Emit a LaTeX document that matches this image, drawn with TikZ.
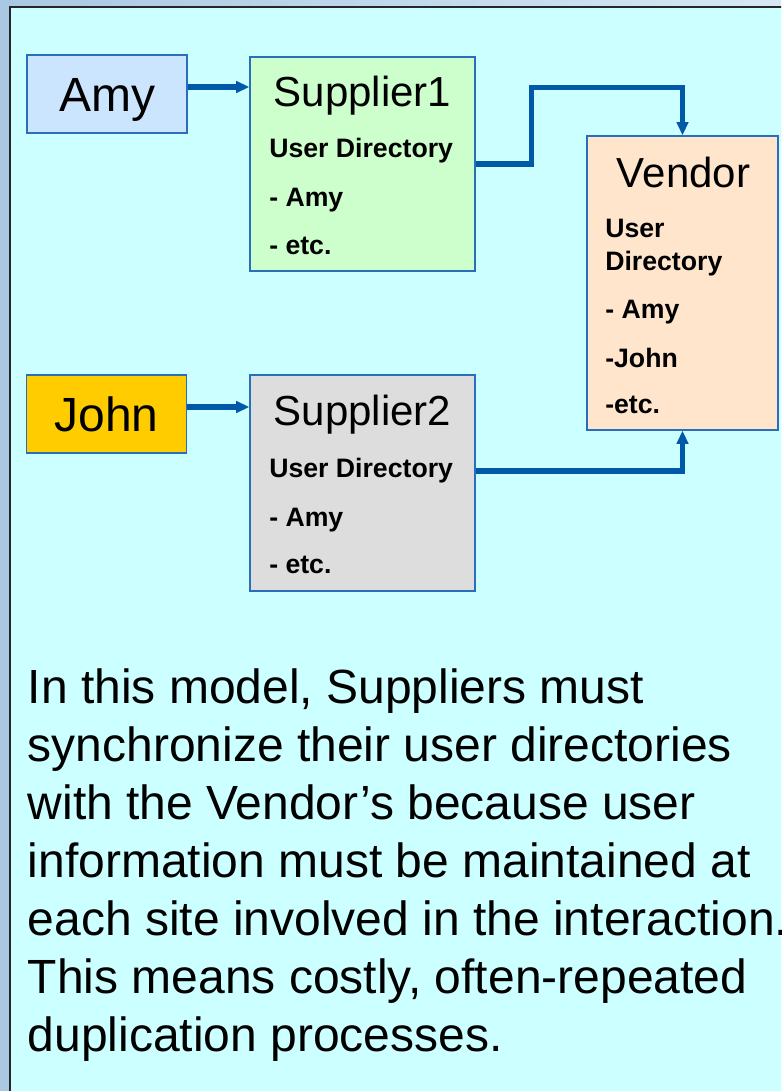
\documentclass[tikz,border=0pt]{standalone}
\usepackage{fontspec}
\setmainfont{Liberation Sans}
\usetikzlibrary{arrows.meta}
\definecolor{pagecyan}{HTML}{CCFFFF}
\definecolor{edgeblue}{HTML}{A9C8E2}
\definecolor{edgelight}{HTML}{D6E8F4}
\definecolor{linkblue}{HTML}{0058A8}
\definecolor{boxline}{HTML}{2A6EBB}
\definecolor{amyfill}{HTML}{CCE5FF}
\definecolor{johnfill}{HTML}{FFCC00}
\definecolor{supafill}{HTML}{CCFFCC}
\definecolor{supbfill}{HTML}{DDDDDD}
\definecolor{vendfill}{HTML}{FFE5CC}
\begin{document}
\begin{tikzpicture}[x=0.75pt, y=-0.75pt,
          box/.style={draw=boxline, line width=0.9pt, inner sep=0pt},
          who/.style={box, minimum width=120pt, minimum height=58.5pt, font=\fontsize{36}{43}\selectfont, text height=25.8pt, text depth=0pt},
          site/.style={box, minimum width=168.75pt},
          head/.style={anchor=base, inner sep=0pt, font=\fontsize{31.5}{38}\selectfont},
          entry/.style={anchor=base west, inner sep=0pt, font=\fontsize{20}{24}\selectfont\bfseries},
          prose/.style={anchor=base west, inner sep=0pt, font=\fontsize{36}{43}\selectfont},
          arr/.style={-{Triangle[length=10pt, width=8.5pt]}, draw=linkblue, line width=3.9pt}]
        \useasboundingbox (0,0) rectangle (781,1091);
        \clip (0,0) rectangle (781,1091);
        \shade[left color=edgeblue, right color=edgelight] (0,0) rectangle (781,1091);
        \draw[line width=1.6pt, draw=black!85, fill=pagecyan] (10,7) rectangle (800,1110);
        \node[who, fill=amyfill] (amy) at (107,94) {Amy};
        \node[who, fill=johnfill] (john) at (106.5,414) {John};
        \node[site, fill=supafill, minimum height=160.5pt] (sup1) at (362.5,164) {};
        \node[site, fill=supbfill, minimum height=162pt] (sup2) at (362.5,483) {};
        \node[box, fill=vendfill, minimum width=143.25pt, minimum height=220.5pt] (vend) at (682.5,283) {};
        \node[head] (sup1head) at (362.5,107) {Supplier1};
        \node[head] (sup2head) at (362.5,425) {Supplier2};
        \node[head] (vendhead) at (683.5,188) {Vendor};
        \foreach \t/\y [count=\i] in {User Directory/158, - Amy/207, - etc./254} {
          \node[entry] (sup1l\i) at (269,\y) {\t};
          \node[entry] (sup2l\i) at (269,\y+319) {\t};
        }
        \foreach \t/\y [count=\i] in {User/238, Directory/270, - Amy/318, -John/367, -etc./413}
          \node[entry] (vendl\i) at (605,\y) {\t};
        \foreach \t [count=\i] in {{In this model, Suppliers must}, synchronize their user directories,
            with the Vendor’s because user, information must be maintained at,
            each site involved in the interaction., {This means costly, often-repeated},
            duplication processes.}
          \node[prose] (ln\i) at (27.5,{645+58*\i}) {\t};
        \coordinate (amyout) at ([yshift=5.25pt]amy.east);
        \coordinate (johnout) at ([yshift=5.25pt]john.east);
        \coordinate (sup2out) at ([yshift=9pt]sup2.east);
        \draw[arr] (amyout) -- (amyout -| sup1.west);
        \draw[arr] (johnout) -- (johnout -| sup2.west);
        \draw[arr] (sup1.east) -- ++(56,0) |- ([yshift=36pt]vend.north) -- (vend.north);
        \draw[arr] (sup2out) -| (vend.south);
      \end{tikzpicture}
\end{document}
